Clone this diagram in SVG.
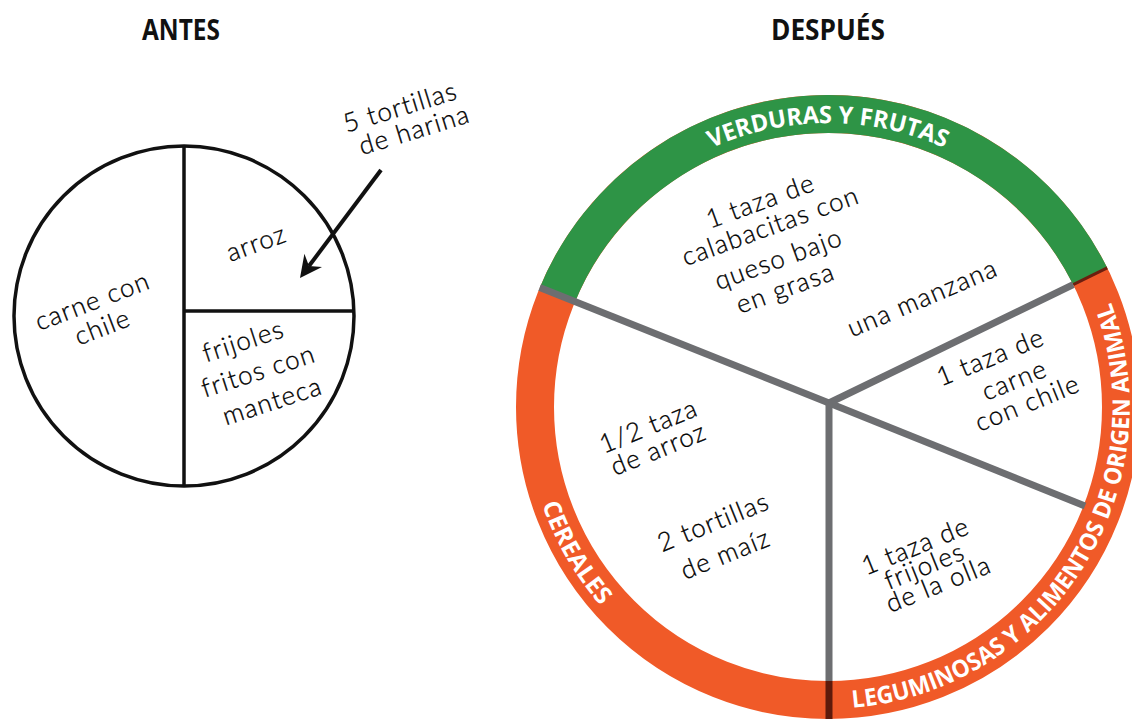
<svg xmlns="http://www.w3.org/2000/svg" width="1132" height="719" viewBox="0 0 1132 719">
  <style>
    .title { font-family: "Open Sans", "Liberation Sans", sans-serif; font-weight: 700; font-size: 28px; fill: #111; text-anchor: middle; }
    .hw { font-family: "Lato", "Liberation Sans", sans-serif; font-weight: 300; font-size: 26px; letter-spacing: 1.2px; fill: #000; stroke: #000; stroke-width: 0.3px; dominant-baseline: central; }
    .band { font-family: "Open Sans", "Liberation Sans", sans-serif; font-weight: 700; font-size: 24px; fill: #fff; }
    .pie { fill: none; stroke: #111; stroke-width: 3.5; }
    .spoke { stroke: #6d6e71; stroke-width: 7; fill: none; }
  </style>
  <defs>
    <path id="arcTop" d="M 544 407 A 284 284 0 0 1 1112 407"/>
    <path id="arcLeft" d="M 544.2 303.7 A 302 302 0 0 0 775.6 704.4"/>
    <path id="arcRight" d="M 677 668.5 A 302 302 0 0 0 1001.2 159.6"/>
    <path id="l-carne1" d="M -48 353.8 L 232 246.2"/>
    <path id="l-carne2" d="M -38 379.8 L 242 272.2"/>
    <path id="l-arroz" d="M 115 293.3 L 397 190.7"/>
    <path id="l-frij1" d="M 100.3 386.4 L 385.7 293.6"/>
    <path id="l-frij2" d="M 115.3 416.4 L 400.7 323.6"/>
    <path id="l-frij3" d="M 129.3 446.4 L 414.7 353.6"/>
    <path id="l-tort1" d="M 256.6 149.9 L 543.4 62.1"/>
    <path id="l-tort2" d="M 270.6 172.9 L 557.4 85.1"/>
    <path id="r-ver1" d="M 619 251.3 L 901 148.7"/>
    <path id="r-ver2" d="M 629 276.3 L 911 173.7"/>
    <path id="r-ver3" d="M 637 309.3 L 919 206.7"/>
    <path id="r-ver4" d="M 644 338.3 L 926 235.7"/>
    <path id="r-manz" d="M 783.9 355.6 L 1060.1 238.4"/>
    <path id="r-car1" d="M 850.9 412.2 L 1129.1 299.8"/>
    <path id="r-car2" d="M 874.9 435.2 L 1153.1 322.8"/>
    <path id="r-car3" d="M 887.9 458.2 L 1166.1 345.8"/>
    <path id="r-cer1" d="M 508.9 481.2 L 787.1 368.8"/>
    <path id="r-cer2" d="M 518.9 504.2 L 797.1 391.8"/>
    <path id="r-cer3" d="M 573.9 577.2 L 852.1 464.8"/>
    <path id="r-cer4" d="M 585.9 609.2 L 864.1 496.8"/>
    <path id="r-fri1" d="M 775.9 601.2 L 1054.1 488.8"/>
    <path id="r-fri2" d="M 784.9 621.2 L 1063.1 508.8"/>
    <path id="r-fri3" d="M 798.9 639.2 L 1077.1 526.8"/>
  </defs>

  <rect width="1132" height="719" fill="#fff"/>

  <g id="antes-title">
    <text class="title" x="181" y="40" textLength="78" lengthAdjust="spacingAndGlyphs">ANTES</text>
  </g>
  <g id="despues-title">
    <text class="title" x="828" y="40" textLength="114" lengthAdjust="spacingAndGlyphs">DESPUÉS</text>
  </g>

  <g id="antes-chart">
    <circle class="pie" cx="184" cy="316" r="170"/>
    <line class="pie" x1="184" y1="146" x2="184" y2="486"/>
    <line class="pie" x1="184" y1="311" x2="354" y2="311"/>
  </g>

  <g id="antes-carne">
    <text class="hw"><textPath href="#l-carne1" startOffset="50%" text-anchor="middle">carne con</textPath></text>
    <text class="hw"><textPath href="#l-carne2" startOffset="50%" text-anchor="middle">chile</textPath></text>
  </g>
  <g id="antes-arroz">
    <text class="hw"><textPath href="#l-arroz" startOffset="50%" text-anchor="middle">arroz</textPath></text>
  </g>
  <g id="antes-frijoles">
    <text class="hw"><textPath href="#l-frij1" startOffset="50%" text-anchor="middle">frijoles</textPath></text>
    <text class="hw"><textPath href="#l-frij2" startOffset="50%" text-anchor="middle">fritos con</textPath></text>
    <text class="hw"><textPath href="#l-frij3" startOffset="50%" text-anchor="middle">manteca</textPath></text>
  </g>
  <g id="antes-tortillas">
    <text class="hw"><textPath href="#l-tort1" startOffset="50%" text-anchor="middle">5 tortillas</textPath></text>
    <text class="hw"><textPath href="#l-tort2" startOffset="50%" text-anchor="middle">de harina</textPath></text>
  </g>

  <g id="ring">
    <circle cx="828" cy="407" r="293" fill="none" stroke="#f05a28" stroke-width="38"/>
    <path d="M 557.3 294.9 A 293 293 0 0 1 1090.2 276.3" fill="none" stroke="#2e9446" stroke-width="38"/>
    <line x1="1073.2" y1="284.7" x2="1107.2" y2="267.8" stroke="#6b1f0f" stroke-width="3"/>
  </g>

  <g id="band-verduras">
    <text class="band"><textPath href="#arcTop" startOffset="50%" text-anchor="middle" textLength="240" lengthAdjust="spacingAndGlyphs">VERDURAS Y FRUTAS</textPath></text>
  </g>
  <g id="band-cereales">
    <text class="band"><textPath href="#arcLeft" startOffset="50%" text-anchor="middle" textLength="118" lengthAdjust="spacingAndGlyphs">CEREALES</textPath></text>
  </g>
  <g id="band-leguminosas">
    <text class="band"><textPath href="#arcRight" startOffset="50%" text-anchor="middle" textLength="556" lengthAdjust="spacingAndGlyphs">LEGUMINOSAS Y ALIMENTOS DE ORIGEN ANIMAL</textPath></text>
  </g>

  <g id="connectors">
    <line x1="381" y1="170" x2="309" y2="266" stroke="#111" stroke-width="4"/>
    <polygon points="300,278 304.4,253.8 309,266 322,267" fill="#111"/>
    <line class="spoke" x1="829" y1="403" x2="539.7" y2="287.6"/>
    <line class="spoke" x1="829" y1="403" x2="1073.2" y2="284.7"/>
    <line class="spoke" x1="829" y1="403" x2="1085" y2="506"/>
    <line class="spoke" x1="829" y1="403" x2="829" y2="681"/>
    <line x1="829" y1="681" x2="829" y2="719" stroke="#5e1a0b" stroke-width="7"/>
  </g>

  <g id="despues-verduras">
    <text class="hw"><textPath href="#r-ver1" startOffset="50%" text-anchor="middle">1 taza de</textPath></text>
    <text class="hw"><textPath href="#r-ver2" startOffset="50%" text-anchor="middle">calabacitas con</textPath></text>
    <text class="hw"><textPath href="#r-ver3" startOffset="50%" text-anchor="middle">queso bajo</textPath></text>
    <text class="hw"><textPath href="#r-ver4" startOffset="50%" text-anchor="middle">en grasa</textPath></text>
    <text class="hw"><textPath href="#r-manz" startOffset="50%" text-anchor="middle">una manzana</textPath></text>
  </g>
  <g id="despues-carne">
    <text class="hw"><textPath href="#r-car1" startOffset="50%" text-anchor="middle">1 taza de</textPath></text>
    <text class="hw"><textPath href="#r-car2" startOffset="50%" text-anchor="middle">carne</textPath></text>
    <text class="hw"><textPath href="#r-car3" startOffset="50%" text-anchor="middle">con chile</textPath></text>
  </g>
  <g id="despues-cereales">
    <text class="hw"><textPath href="#r-cer1" startOffset="50%" text-anchor="middle">1/2 taza</textPath></text>
    <text class="hw"><textPath href="#r-cer2" startOffset="50%" text-anchor="middle">de arroz</textPath></text>
    <text class="hw"><textPath href="#r-cer3" startOffset="50%" text-anchor="middle">2 tortillas</textPath></text>
    <text class="hw"><textPath href="#r-cer4" startOffset="50%" text-anchor="middle">de maíz</textPath></text>
  </g>
  <g id="despues-frijoles">
    <text class="hw"><textPath href="#r-fri1" startOffset="50%" text-anchor="middle">1 taza de</textPath></text>
    <text class="hw"><textPath href="#r-fri2" startOffset="50%" text-anchor="middle">frijoles</textPath></text>
    <text class="hw"><textPath href="#r-fri3" startOffset="50%" text-anchor="middle">de la olla</textPath></text>
  </g>
</svg>
